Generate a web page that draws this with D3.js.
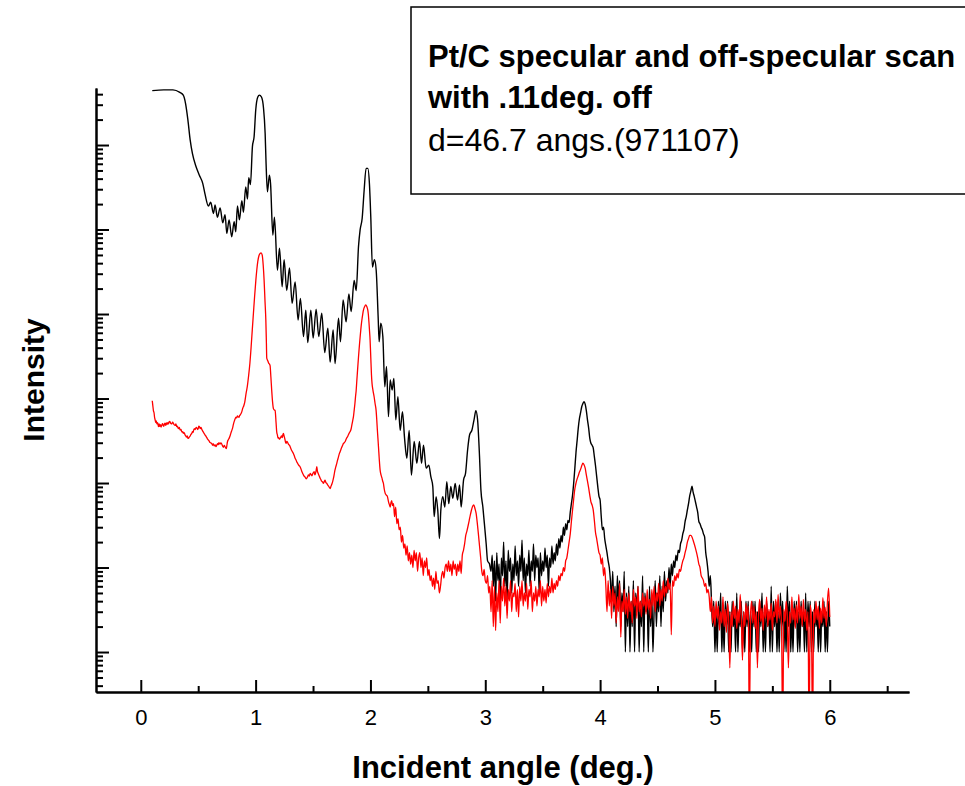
<!DOCTYPE html>
<html><head><meta charset="utf-8">
<script src="https://cdn.jsdelivr.net/npm/d3@7/dist/d3.min.js"></script>
<style>body{margin:0;background:#fff}svg{display:block}</style>
</head><body>
<svg id="chart" width="965" height="786"></svg>
<script>
// ---- data: [incident angle (deg), intensity (counts)] ----
const specularScan = [
[0.10,4.4e6],[0.20,4.5e6],[0.28,4.5e6],[0.34,4.2e6],[0.37,3.9e6],[0.39,3.1e6],[0.41,2.0e6],[0.43,1.15e6],[0.45,7.9e5],[0.48,5.6e5],[0.51,4.4e5],[0.54,3.5e5],[0.56,2.6e5],
[0.589,1.9e5],[0.609,2.1e5],[0.633,1.55e5],[0.647,1.95e5],[0.667,1.4e5],[0.691,1.8e5],[0.714,1.2e5],[0.734,1.5e5],[0.749,9.0e4],[0.769,1.3e5],[0.792,8.2e4],[0.813,1.24e5],[0.827,9.4e4],
[0.842,1.9e5],[0.859,1.3e5],[0.880,2.2e5],[0.894,1.6e5],[0.914,3.2e5],[0.929,2.3e5],[0.940,4.1e5],[0.955,3.4e5],[0.972,9.5e5],[0.987,1.26e6],[1.001,2.6e6],[1.019,3.7e6],[1.033,3.9e6],
[1.051,3.7e6],[1.068,2.8e6],[1.083,1.37e6],[1.091,6.1e5],[1.103,2.8e5],[1.120,4.4e5],[1.130,3.5e5],[1.150,8.6e4],[1.164,1.4e5],[1.190,3.3e4],[1.208,6.0e4],[1.231,2.1e4],[1.248,4.4e4],
[1.271,1.9e4],[1.295,3.5e4],[1.318,1.34e4],[1.344,2.4e4],[1.370,8.5e3],[1.390,1.53e4],[1.417,5.4e3],[1.437,1.11e4],[1.454,4.6e3],[1.481,1.11e4],[1.501,5.2e3],[1.527,1.14e4],[1.550,5.4e3],
[1.576,1.02e4],[1.602,3.5e3],[1.629,6.8e3],[1.649,2.7e3],[1.675,6.5e3],[1.692,2.6e3],[1.722,8.9e3],[1.739,4.7e3],[1.762,1.47e4],[1.788,8.1e3],[1.812,1.73e4],[1.832,1.07e4],[1.858,2.5e4],
[1.876,1.9e4],[1.896,6.3e4],[1.910,9.9e4],[1.928,1.36e5],[1.945,2.9e5],[1.962,5.3e5],[1.977,5.3e5],[1.991,3.5e5],[2.003,1.4e5],[2.017,3.6e4],[2.035,4.4e4],[2.050,3.3e4],[2.067,9.3e3],
[2.076,4.7e3],[2.090,7.8e3],[2.108,5.4e3],[2.125,1380],[2.140,2400],[2.157,610],[2.172,1660],[2.189,1260],[2.204,1730],[2.221,560],[2.239,1050],[2.259,420],[2.279,700],[2.297,340],
[2.317,196],[2.337,420],[2.357,124],[2.381,310],[2.404,171],[2.427,310],[2.445,171],[2.462,280],[2.485,150],[2.508,163],[2.526,119],[2.543,91],[2.555,40],[2.572,69],[2.587,46],[2.601,22],
[2.613,48],[2.630,69],[2.648,52],[2.665,104],[2.682,57],[2.700,91],[2.717,66],[2.738,99],[2.758,63],[2.776,95],[2.790,52],[2.811,109],[2.828,130],[2.846,246],[2.863,370],[2.884,424],
[2.904,580],[2.918,720],[2.933,560],[2.950,205],[2.962,83],[2.979,52],[2.997,28],[3.008,19],[3.020,12],[3.037,11],
[3.05,9],[3.06,14],[3.07,6],[3.08,12],[3.09,4],[3.10,15],[3.11,7],[3.12,11],[3.13,3],[3.14,13],[3.15,8],[3.16,20],[3.17,6],[3.18,12],[3.19,4],[3.20,16],[3.21,9],[3.22,13],[3.23,5],[3.24,11],
[3.25,7],[3.26,18],[3.27,8],[3.28,12],[3.29,6],[3.30,14],[3.31,9],[3.32,21],[3.33,7],[3.34,13],[3.35,5],[3.36,11],[3.37,8],[3.38,16],[3.39,6],[3.40,12],[3.41,9],[3.42,19],[3.43,7],[3.44,14],
[3.45,10],[3.46,13],[3.47,5],[3.48,15],[3.49,8],[3.50,12],[3.51,9],[3.52,17],[3.53,10],[3.54,14],[3.55,6],[3.56,13],[3.57,10],[3.58,18],[3.59,11],[3.60,15],[3.61,12],[3.62,19],[3.63,14],
[3.64,22],[3.65,17],[3.66,24],[3.67,20],[3.68,30],[3.69,24],[3.70,33],[3.71,28],[3.72,36],[3.73,34],[3.74,45],[3.75,57],[3.76,72],[3.77,100],[3.78,150],[3.79,230],[3.80,320],[3.81,450],
[3.82,580],[3.83,680],[3.84,800],[3.85,870],[3.86,920],[3.87,860],[3.88,720],[3.89,560],[3.90,450],[3.91,340],[3.92,295],[3.93,280],[3.94,260],[3.95,205],[3.96,160],[3.97,120],[3.98,90],
[3.99,70],[4.00,63],[4.01,40],[4.02,28],[4.03,30],[4.04,22],[4.05,18],[4.06,15],[4.07,12],[4.08,10],
[4.09,7],[4.10,4],[4.11,9],[4.12,3],[4.13,6],[4.14,2],[4.15,8],[4.16,4],[4.17,7],[4.18,2],[4.19,5],[4.20,3],[4.21,9],[4.22,1],[4.23,5],[4.24,2],[4.25,6],[4.26,1],[4.27,4],[4.28,2],[4.29,7],
[4.30,1],[4.31,5],[4.32,3],[4.33,6],[4.34,1],[4.35,4],[4.36,2],[4.37,8],[4.38,1],[4.39,5],[4.40,3],[4.41,4],[4.42,1],[4.43,6],[4.44,2],[4.45,5],[4.46,1],[4.47,3],[4.48,7],[4.49,2],[4.50,5],
[4.51,3],[4.52,8],[4.53,2],[4.54,6],[4.55,3],[4.56,9],[4.57,4],[4.58,7],[4.59,5],[4.60,10],[4.61,6],[4.62,11],[4.63,8],[4.64,12],[4.65,10],[4.66,14],[4.67,12],[4.68,16],[4.69,15],[4.70,19],
[4.71,21],[4.72,25],[4.73,28],[4.74,35],[4.75,40],[4.76,48],[4.77,57],[4.78,70],[4.79,80],[4.80,92],[4.81,78],[4.82,69],[4.83,60],[4.84,52],[4.85,45],[4.86,35],[4.87,33],[4.88,30],[4.89,28],
[4.90,25],[4.91,23],[4.92,15],[4.93,12],[4.94,9],[4.95,6],[4.96,8],[4.97,4],
[4.98,2],[4.99,4],[5.00,1],[5.01,3],[5.02,1],[5.03,4],[5.04,2],[5.05,5],[5.06,1],[5.07,3],[5.08,1],[5.09,4],[5.10,2],[5.11,4],[5.12,1],[5.13,3],[5.14,1],[5.15,4],[5.16,2],[5.17,3],[5.18,1],
[5.19,5],[5.20,1],[5.21,3],[5.22,2],[5.23,4],[5.24,1],[5.25,3],[5.26,1],[5.27,4],[5.28,2],[5.29,4],[5.30,1],[5.31,3],[5.32,1],[5.33,4],[5.34,2],[5.35,4],[5.36,1],[5.37,3],[5.38,1],[5.39,4],
[5.40,2],[5.41,5],[5.42,1],[5.43,3],[5.44,1],[5.45,4],[5.46,2],[5.47,3],[5.48,1],[5.49,6],[5.50,1],[5.51,4],[5.52,2],[5.53,4],[5.54,1],[5.55,3],[5.56,1],[5.57,5],[5.58,2],[5.59,4],[5.60,1],
[5.61,3],[5.62,1],[5.63,6],[5.64,2],[5.65,4],[5.66,1],[5.67,3],[5.68,1],[5.69,4],[5.70,2],[5.71,4],[5.72,1],[5.73,3],[5.74,1],[5.75,4],[5.76,2],[5.77,3],[5.78,1],[5.79,5],[5.80,1],[5.81,4],
[5.82,2],[5.83,4],[5.84,1],[5.85,3],[5.86,1],[5.87,4],[5.88,2],[5.89,3],[5.90,1],[5.91,4],[5.92,1],[5.93,3],[5.94,2],[5.95,4],[5.96,1],[5.97,3],[5.98,1],[5.99,4],[6.00,2]
];

const offSpecularScan = [
[0.10,940],[0.105,820],[0.11,720],[0.116,670],[0.12,600],[0.125,560],[0.13,520],[0.135,545],[0.14,500],[0.147,520],[0.154,465],[0.16,500],[0.165,470],[0.17,490],[0.177,460],[0.183,485],
[0.19,505],[0.195,480],[0.20,470],[0.206,500],[0.212,510],[0.218,480],[0.224,515],[0.23,495],[0.236,520],[0.242,500],[0.248,535],[0.255,530],[0.262,505],[0.27,500],[0.277,525],[0.284,510],
[0.29,490],[0.30,480],[0.306,500],[0.313,465],[0.32,470],[0.325,445],[0.33,440],[0.336,455],[0.342,424],[0.35,430],[0.355,410],[0.36,400],[0.365,405],[0.371,387],[0.378,395],[0.385,372],
[0.39,365],[0.398,350],[0.405,360],[0.41,340],[0.415,338],[0.422,350],[0.43,360],[0.436,375],[0.444,387],[0.45,405],[0.455,398],[0.46,420],[0.467,440],[0.474,430],[0.482,456],[0.49,445],
[0.495,430],[0.50,440],[0.505,470],[0.511,465],[0.518,440],[0.525,455],[0.531,432],[0.538,415],[0.545,400],[0.552,385],[0.560,370],[0.567,360],[0.575,345],[0.582,330],[0.589,323],[0.595,315],
[0.60,305],[0.61,298],[0.618,294],[0.625,280],[0.632,290],[0.64,275],[0.648,282],[0.655,270],[0.662,282],[0.67,292],[0.675,284],[0.68,300],[0.69,288],[0.697,298],[0.705,290],[0.712,275],
[0.72,265],[0.727,278],[0.734,269],[0.74,260],[0.745,255],[0.75,280],[0.755,308],[0.762,325],[0.77,340],[0.777,360],[0.784,387],[0.79,410],[0.80,450],[0.806,490],[0.813,532],[0.82,570],
[0.83,600],[0.836,590],[0.842,621],[0.848,610],[0.855,600],[0.86,625],[0.865,638],[0.872,660],[0.88,700],[0.888,766],[0.897,820],[0.905,900],[0.917,1150],[0.928,1400],[0.938,1810],[0.95,2600],
[0.961,4100],[0.971,6500],[0.981,1.02e4],[0.991,1.6e4],[1.002,2.5e4],[1.010,3.3e4],[1.019,4.2e4],[1.029,4.9e4],[1.039,5.2e4],[1.048,5.3e4],[1.057,5.0e4],[1.066,3.8e4],[1.074,2.5e4],
[1.082,1.4e4],[1.089,8.5e3],[1.094,4.5e3],[1.097,3.0e3],[1.106,2.8e3],[1.115,2.6e3],[1.121,2.55e3],[1.126,2450],[1.133,1800],[1.140,1260],[1.148,900],[1.155,760],[1.162,735],[1.170,720],
[1.178,520],[1.184,400],[1.190,370],[1.195,340],[1.200,345],[1.207,330],[1.213,338],[1.219,350],[1.225,360],[1.232,345],[1.237,372],[1.242,387],[1.248,360],[1.255,330],[1.260,305],[1.265,294],
[1.272,310],[1.28,300],[1.287,285],[1.294,282],[1.30,270],[1.31,250],[1.318,238],[1.329,224],[1.337,210],[1.345,195],[1.35,190],[1.358,179],[1.365,172],[1.372,165],[1.38,160],[1.387,156],
[1.394,148],[1.40,140],[1.41,130],[1.417,124],[1.424,120],[1.43,118],[1.44,112],[1.446,114],[1.453,119],[1.46,125],[1.468,121],[1.475,130],[1.483,126],[1.49,122],[1.50,131],[1.510,136],
[1.515,125],[1.52,128],[1.527,140],[1.533,156],[1.538,138],[1.545,130],[1.553,122],[1.562,114],[1.568,110],[1.575,105],[1.583,103],[1.591,99],[1.598,104],[1.605,108],[1.612,101],[1.620,99],
[1.627,95],[1.635,92],[1.642,89],[1.649,86],[1.657,92],[1.665,98],[1.671,104],[1.678,114],[1.684,126],[1.69,140],[1.698,155],[1.707,171],[1.713,185],[1.72,200],[1.728,220],[1.736,235],
[1.743,250],[1.75,265],[1.757,278],[1.765,294],[1.772,300],[1.78,310],[1.79,335],[1.800,353],[1.807,370],[1.815,390],[1.822,405],[1.829,424],[1.835,460],[1.840,500],[1.846,550],[1.852,610],
[1.858,720],[1.865,880],[1.870,1050],[1.876,1260],[1.881,1600],[1.886,2000],[1.891,2500],[1.896,3100],[1.901,3800],[1.906,4600],[1.911,5500],[1.916,6500],[1.922,7800],[1.928,9000],
[1.933,1.0e4],[1.939,1.11e4],[1.949,1.22e4],[1.959,1.28e4],[1.968,1.23e4],[1.977,1.11e4],[1.982,9800],[1.987,8000],[1.992,6300],[1.997,4900],[2.001,3600],[2.005,2600],[2.009,1900],
[2.014,1500],[2.022,1250],[2.032,1050],[2.040,880],[2.049,730],[2.055,560],[2.060,430],[2.065,340],[2.070,269],[2.077,190],[2.084,143],[2.092,125],[2.100,115],[2.107,105],[2.113,99],
[2.120,85],[2.128,76],[2.138,72],[2.148,69],[2.154,63],[2.160,58],[2.166,55],[2.172,52],[2.178,58],[2.185,62],[2.193,54],[2.201,57],
[2.21,40],[2.22,52],[2.23,33],[2.24,38],[2.25,28],[2.26,30],[2.27,20],[2.28,24],[2.29,17],[2.30,19],[2.31,14],[2.32,18],[2.33,12],[2.34,15],[2.35,11],[2.36,14],[2.37,10],[2.38,16],[2.39,12],
[2.40,15],[2.41,9],[2.42,13],[2.43,15],[2.44,10],[2.45,13],[2.46,8],[2.47,12],[2.48,10],[2.49,13],[2.50,8],[2.51,9.5],[2.52,7],[2.53,8],[2.54,6],[2.55,7.5],[2.56,5.5],[2.57,9],[2.58,6.5],
[2.59,7],[2.60,5],[2.61,6],[2.62,8],[2.63,9],[2.64,7.5],[2.65,10],[2.66,11],[2.67,9],[2.68,12],[2.69,9],[2.70,11],[2.71,8],[2.72,12],[2.73,9.5],[2.74,11],[2.75,8],[2.76,11],[2.77,9],[2.78,12],
[2.79,8.5],[2.80,14],[2.81,16],[2.82,19],[2.83,24],[2.84,27],[2.85,31],[2.86,36],[2.87,42],[2.88,48],[2.89,53],[2.90,55],[2.91,50],[2.92,44],[2.93,34],[2.94,25],[2.95,18],[2.96,13],[2.97,9],
[2.98,8],[2.99,9.5],[3.00,7],[3.01,6.5],[3.02,8],[3.03,5],[3.04,6],
[3.05,3],[3.06,7],[3.07,2],[3.08,6],[3.09,1.8],[3.10,5],[3.11,3],[3.12,7],[3.13,2.2],[3.14,6],[3.15,4],[3.16,7.5],[3.17,3.5],[3.18,6],[3.19,2.5],[3.20,5.5],[3.21,4],[3.22,7],[3.23,3],[3.24,5],
[3.25,4.5],[3.26,6.5],[3.27,3],[3.28,5.5],[3.29,2.6],[3.30,6],[3.31,4],[3.32,7],[3.33,3.5],[3.34,5],[3.35,4],[3.36,6.5],[3.37,3.2],[3.38,5.5],[3.39,4.5],[3.40,7],[3.41,3],[3.42,5],[3.43,4],
[3.44,6],[3.45,3.5],[3.46,5.5],[3.47,4.5],[3.48,7],[3.49,3.5],[3.50,6],[3.51,4],[3.52,5.5],[3.53,3.8],[3.54,6.5],[3.55,4.5],[3.56,6],[3.57,5],[3.58,7.5],[3.59,5],[3.60,6.5],
[3.61,5.5],[3.62,7],[3.63,6],[3.64,8],[3.65,7],[3.66,8.5],[3.67,8],[3.68,10],[3.69,9],[3.70,12],[3.71,13],[3.72,16],[3.73,20],[3.74,25],[3.75,35],[3.76,48],[3.77,65],[3.78,85],[3.79,100],
[3.80,112],[3.81,122],[3.82,135],[3.83,145],[3.84,160],[3.85,172],[3.86,165],[3.87,150],[3.88,125],[3.89,105],[3.90,88],[3.91,72],[3.92,60],[3.93,55],[3.94,48],[3.95,36],[3.96,26],[3.97,22],
[3.98,18],[3.99,15],[4.00,14],[4.01,11],[4.02,13],[4.03,8],[4.04,10],
[4.05,6],[4.06,3],[4.07,7],[4.08,3.5],[4.09,5.5],[4.10,2.5],[4.11,6],[4.12,3.5],[4.13,5],[4.14,2.2],[4.15,4.5],[4.16,3],[4.17,6.5],[4.18,1.5],[4.19,4],[4.20,3],[4.21,5.5],[4.22,2.8],[4.23,4.5],
[4.24,2.5],[4.25,5],[4.26,3],[4.27,4],[4.28,2.2],[4.29,5.5],[4.30,3.5],[4.31,4.5],[4.32,2.5],[4.33,6],[4.34,3],[4.35,4],[4.36,2.6],[4.37,5],[4.38,3.5],[4.39,4.5],[4.40,2.8],[4.41,5.5],[4.42,3.2],
[4.43,4.2],[4.44,2.5],[4.45,5.5],[4.46,3.5],[4.47,6],[4.48,3],[4.49,5],[4.50,4],[4.51,6.5],[4.52,3.5],[4.53,5.5],[4.54,4],[4.55,7],[4.56,4.5],[4.57,6],[4.58,5],[4.59,7.5],[4.60,5.5],
[4.61,6.5],[4.62,1.6],[4.63,7],[4.64,6],[4.65,8],[4.66,7],[4.67,8.5],[4.68,7.5],[4.69,9.5],[4.70,9],[4.71,10.5],[4.72,12],[4.73,13],[4.74,15],[4.75,17],[4.76,20],[4.77,22],[4.78,24],[4.79,24],
[4.80,23],[4.81,21],[4.82,19],[4.83,17],[4.84,15],[4.85,13],[4.86,11],[4.87,10],[4.88,8],[4.89,7.5],[4.90,7],[4.91,6],[4.92,6.5],[4.93,5],[4.94,5.5],[4.95,4.5],
[4.96,3],[4.97,4.5],[4.98,2.2],[4.99,3.5],[5.00,2],[5.01,4],[5.02,2.5],[5.03,3.5],[5.04,1.8],[5.05,3],[5.06,2.2],[5.07,4.5],[5.08,2],[5.09,3.2],[5.10,1.7],[5.11,3.8],[5.12,2.4],[5.13,0.65],
[5.14,3],[5.15,2],[5.16,4],[5.17,2.5],[5.18,3.5],[5.19,1.9],[5.20,3.2],[5.21,2.2],[5.22,4.8],[5.23,2.5],[5.24,0.8],[5.25,3],[5.26,2],[5.27,3.8],[5.28,2.4],[5.29,3.5],[5.30,0.1],[5.31,2.8],
[5.32,4],[5.33,2.2],[5.34,3.5],[5.35,1.9],[5.36,3],[5.37,0.65],[5.38,2.8],[5.39,4.2],[5.40,2.3],[5.41,3.3],[5.42,1.8],[5.43,3.6],[5.44,2.5],[5.45,4.5],[5.46,2],[5.47,3.2],[5.48,2.4],[5.49,3.8],
[5.50,1.8],[5.51,3],[5.52,2.6],[5.53,4.2],[5.54,2.2],[5.55,4.8],[5.56,2.5],[5.57,3.5],[5.58,2],[5.59,0.1],[5.60,3.2],[5.61,2.3],[5.62,4],[5.63,2.6],[5.64,0.65],[5.65,3],[5.66,2.2],[5.67,4.5],
[5.68,2.4],[5.69,3.3],[5.70,1.9],[5.71,3.6],[5.72,2.2],[5.73,4.8],[5.74,2.5],[5.75,3.5],[5.76,2],[5.77,4.2],[5.78,2.3],[5.79,3.2],[5.80,1.8],[5.81,3],[5.82,0.1],[5.83,3.6],[5.84,2.5],[5.85,0.1],
[5.86,3.2],[5.87,2.2],[5.88,4],[5.89,2.4],[5.90,3.5],[5.91,1.9],[5.92,3.3],[5.93,2.2],[5.94,4.4],[5.95,2.5],[5.96,3.4],[5.97,2],[5.98,4],[5.99,5.7],[6.00,2.6]
];

const xTickValues = [0, 1, 2, 3, 4, 5, 6];
const xMinorTickValues = [0.5, 1.5, 2.5, 3.5, 4.5, 5.5, 6.5];
const xAxisTitle = "Incident angle (deg.)";
const yAxisTitle = "Intensity";
const noteLines = ["Pt/C specular and off-specular scan", "with .11deg. off", "d=46.7 angs.(971107)"];

// ---- drawing ----
const svg = d3.select("#chart");
const plot = {left: 96, right: 909, top: 88, bottom: 692};
const FONT = "'Liberation Sans', Arial, Helvetica, sans-serif";

const x = d3.scaleLinear().domain([-0.39, 6.69]).range([plot.left, plot.right]);
const y = d3.scaleLog().domain([0.3365, 4.73e6]).range([plot.bottom, plot.top]);

const yMajor = [], yMinor = [];
for (let k = -1; k <= 6; k++) {
  for (let m = 1; m <= 9; m++) {
    const v = m * Math.pow(10, k);
    if (v < y.domain()[0] || v > y.domain()[1]) continue;
    (m === 1 ? yMajor : yMinor).push(v);
  }
}

svg.append("defs").append("clipPath").attr("id", "clip")
  .append("rect").attr("x", plot.left).attr("y", plot.top)
  .attr("width", plot.right - plot.left).attr("height", plot.bottom - plot.top);

const line = d3.line().x(d => x(d[0])).y(d => y(d[1])).curve(d3.curveMonotoneX);
const dataG = svg.append("g").attr("clip-path", "url(#clip)");
dataG.append("path").datum(specularScan).attr("d", line)
  .attr("fill", "none").attr("stroke", "#000").attr("stroke-width", 1.4).attr("stroke-linejoin", "round");
dataG.append("path").datum(offSpecularScan).attr("d", line)
  .attr("fill", "none").attr("stroke", "#ff0000").attr("stroke-width", 1.3).attr("stroke-linejoin", "round");

function styleAxis(g) {
  g.selectAll("path.domain").attr("stroke", "#000").attr("stroke-width", 2);
  g.selectAll(".tick line").attr("stroke", "#000").attr("stroke-width", 2);
}

// y axis
svg.append("g").attr("transform", `translate(${plot.left},0)`)
  .call(d3.axisLeft(y).tickValues(yMinor).tickSize(-7).tickSizeOuter(0).tickFormat(""))
  .call(styleAxis);
svg.append("g").attr("transform", `translate(${plot.left},0)`)
  .call(d3.axisLeft(y).tickValues(yMajor).tickSize(-13).tickSizeOuter(0).tickFormat(""))
  .call(styleAxis);

// x axis
svg.append("g").attr("transform", `translate(0,${plot.bottom})`)
  .call(d3.axisBottom(x).tickValues(xMinorTickValues).tickSize(-6).tickSizeOuter(0).tickFormat(""))
  .call(styleAxis);
const xg = svg.append("g").attr("transform", `translate(0,${plot.bottom})`)
  .call(d3.axisBottom(x).tickValues(xTickValues).tickSize(-12).tickSizeOuter(0).tickPadding(17).tickFormat(d3.format("d")))
  .call(styleAxis);
xg.selectAll("text").attr("font-family", FONT).attr("font-size", 22).attr("fill", "#000");

// axis titles
svg.append("text").attr("x", 503).attr("y", 778).attr("text-anchor", "middle")
  .attr("font-family", FONT).attr("font-size", 31).attr("font-weight", "bold").text(xAxisTitle);
svg.append("text").attr("transform", "translate(44,380) rotate(-90)").attr("text-anchor", "middle")
  .attr("font-family", FONT).attr("font-size", 30).attr("font-weight", "bold").text(yAxisTitle);

// note box
svg.append("rect").attr("x", 411).attr("y", 7).attr("width", 600).attr("height", 187)
  .attr("fill", "#fff").attr("stroke", "#000").attr("stroke-width", 1.5);
const noteY = [67, 108, 151];
const noteSize = [31, 31, 32];
noteLines.forEach((t, i) => {
  svg.append("text").attr("x", 428).attr("y", noteY[i])
    .attr("font-family", FONT).attr("font-size", noteSize[i])
    .attr("font-weight", i < 2 ? "bold" : "normal").attr("fill", "#000").text(t);
});
</script>
</body></html>
